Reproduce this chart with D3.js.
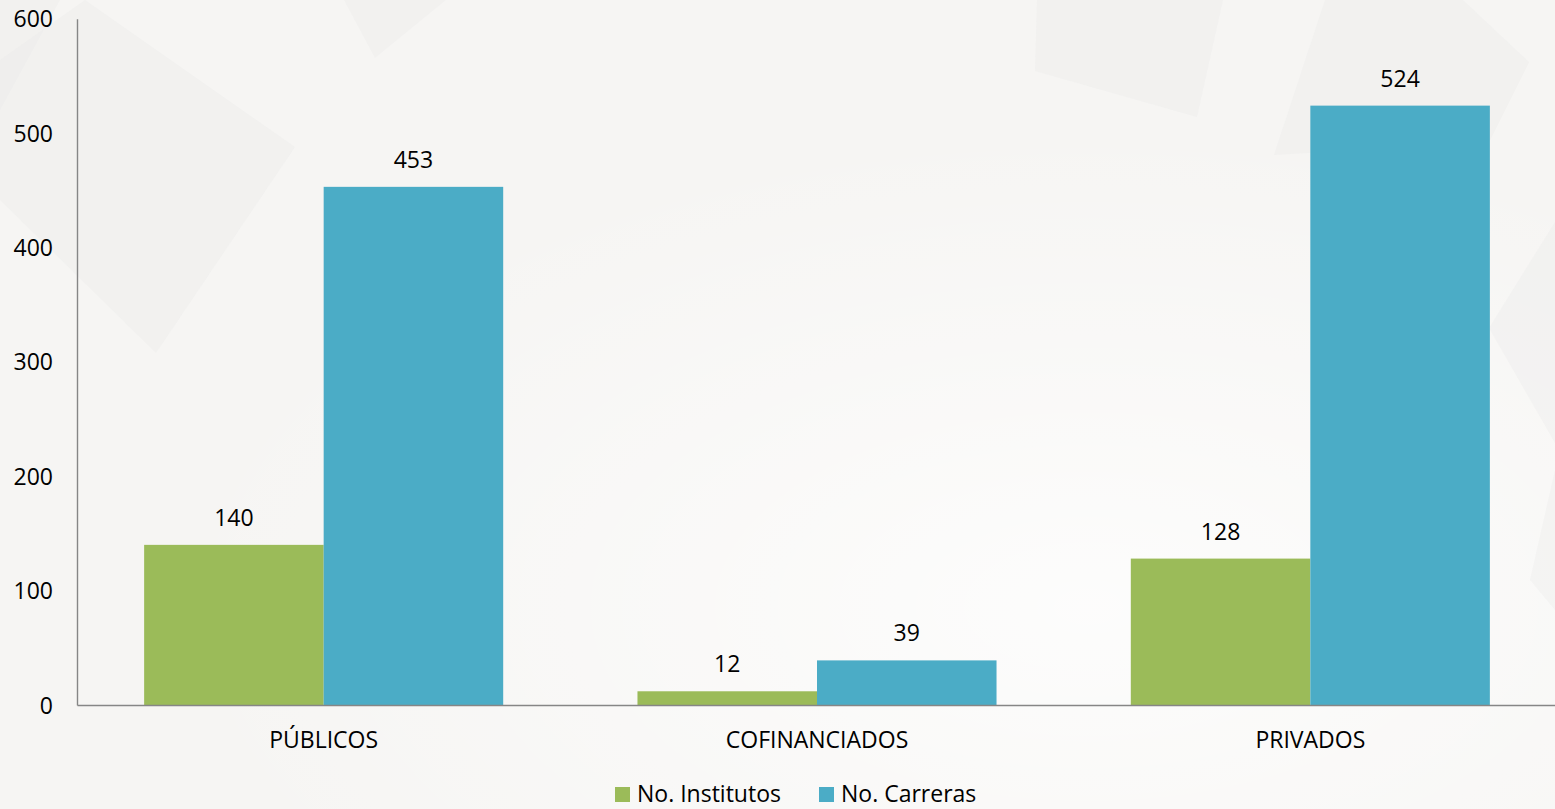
<!DOCTYPE html>
<html>
<head>
<meta charset="utf-8">
<script src="https://cdn.jsdelivr.net/npm/d3@7"></script>
<style>
  html, body { margin: 0; padding: 0; overflow: hidden; background: #f6f5f3; }
  svg text { font-family: "Open Sans", "Noto Sans", sans-serif; fill: #000; }
</style>
</head>
<body>
<div id="chart"></div>
<script>
const categories = ["PÚBLICOS", "COFINANCIADOS", "PRIVADOS"];
const seriesNames = ["No. Institutos", "No. Carreras"];
const institutos = [140, 12, 128];
const carreras = [453, 39, 524];
const seriesColors = ["#9bbb59", "#4bacc6"];
const yTicks = [0, 100, 200, 300, 400, 500, 600];

const W = 1555, H = 809;
const fontSize = 23;

const svg = d3.select("#chart")
  .append("svg")
  .attr("width", W)
  .attr("height", H);

// background with faint geometric shapes
const defs = svg.append("defs");
const glow = defs.append("radialGradient")
  .attr("id", "glow")
  .attr("cx", "0.7").attr("cy", "0.75").attr("r", "0.6");
glow.append("stop").attr("offset", "0%").attr("stop-color", "#ffffff").attr("stop-opacity", 0.75);
glow.append("stop").attr("offset", "100%").attr("stop-color", "#ffffff").attr("stop-opacity", 0);

svg.append("rect").attr("width", W).attr("height", H).attr("fill", "#f6f5f3");
svg.append("rect").attr("width", W).attr("height", H).attr("fill", "url(#glow)");

const shapes = [
  [[0, 0], [60, 0], [0, 110]],
  [[85, 0], [295, 147], [156, 353], [0, 200], [0, 60]],
  [[344, 0], [446, 0], [375, 58]],
  [[1037, 0], [1223, 0], [1197, 117], [1035, 71]],
  [[1325, 0], [1463, 0], [1529, 62], [1489, 142], [1274, 155]],
  [[1555, 222], [1489, 328], [1555, 443]],
  [[1555, 470], [1530, 580], [1555, 610]]
];
svg.append("g")
  .selectAll("polygon")
  .data(shapes)
  .enter().append("polygon")
  .attr("points", d => d.map(p => p.join(",")).join(" "))
  .attr("fill", "#e9e8e7")
  .attr("opacity", 0.3);

// scales
const x0 = d3.scaleBand()
  .domain(categories)
  .range([77, 1557])
  .paddingInner(0)
  .paddingOuter(0);

const x1 = d3.scaleBand()
  .domain(seriesNames)
  .range([0, x0.bandwidth()])
  .paddingInner(0)
  .paddingOuter(0.374);

const y = d3.scaleLinear()
  .domain([0, 600])
  .range([705, 18.7]);

const rows = categories.map((c, i) => ({
  category: c,
  values: [
    { series: seriesNames[0], value: institutos[i], color: seriesColors[0] },
    { series: seriesNames[1], value: carreras[i], color: seriesColors[1] }
  ]
}));

// bars
const groups = svg.append("g")
  .selectAll("g")
  .data(rows)
  .enter().append("g")
  .attr("transform", d => `translate(${x0(d.category)},0)`);

groups.selectAll("rect")
  .data(d => d.values)
  .enter().append("rect")
  .attr("x", d => x1(d.series))
  .attr("y", d => y(d.value))
  .attr("width", x1.bandwidth())
  .attr("height", d => y(0) - y(d.value))
  .attr("fill", d => d.color);

// value labels
groups.selectAll("text")
  .data(d => d.values)
  .enter().append("text")
  .attr("x", d => x1(d.series) + x1.bandwidth() / 2)
  .attr("y", d => y(d.value) - 19)
  .attr("text-anchor", "middle")
  .style("font-size", fontSize + "px")
  .text(d => d.value);

// y axis
const yAxis = svg.append("g")
  .attr("transform", "translate(77,0)")
  .call(d3.axisLeft(y).tickValues(yTicks).tickSize(0).tickPadding(24).tickFormat(d3.format("d")));
yAxis.select(".domain").attr("stroke", "#868686").attr("stroke-width", 1.4);
yAxis.selectAll("text")
  .style("font-size", fontSize + "px")
  .style("font-family", "'Open Sans', sans-serif")
  .attr("fill", "#000")
  .attr("dy", "0.35em");

// x axis
const xAxis = svg.append("g")
  .attr("transform", `translate(0,${y(0)})`)
  .call(d3.axisBottom(x0).tickSize(0).tickSizeOuter(0).tickPadding(27));
xAxis.select(".domain").attr("stroke", "#868686").attr("stroke-width", 1.4);
xAxis.selectAll("text")
  .style("font-size", fontSize + "px")
  .style("font-family", "'Open Sans', sans-serif")
  .attr("fill", "#000");

// legend
const legendX = [615, 819];
const legend = svg.append("g")
  .selectAll("g")
  .data(seriesNames)
  .enter().append("g")
  .attr("transform", (d, i) => `translate(${legendX[i]},787)`);

legend.append("rect")
  .attr("width", 15)
  .attr("height", 15)
  .attr("fill", (d, i) => seriesColors[i]);

legend.append("text")
  .attr("x", 22)
  .attr("y", 15)
  .style("font-size", fontSize + "px")
  .text(d => d);
</script>
</body>
</html>
